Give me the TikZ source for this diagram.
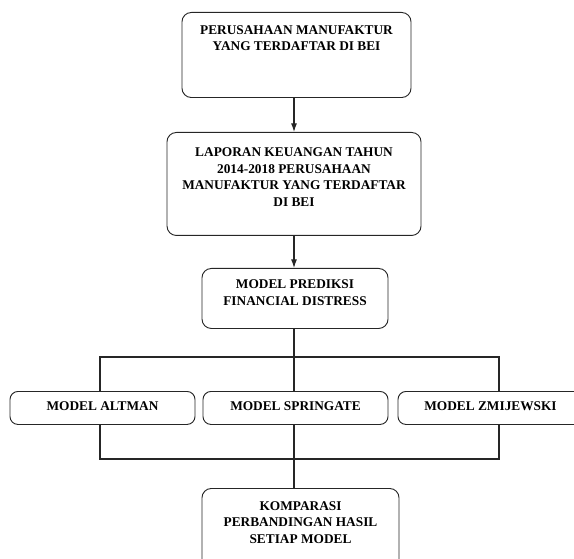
\documentclass[tikz,border=0pt]{standalone}
\usepackage{fontspec}
\setmainfont{Liberation Serif}
\usetikzlibrary{arrows.meta}
\tikzset{
    box/.style={draw=black!85, line width=0.7pt, rounded corners=7pt, align=center,
        anchor=north, inner xsep=0pt, inner ysep=0pt,
        font=\bfseries\fontsize{10}{12.5}\selectfont},
    conn/.style={draw=black!85, line width=0.8pt},
    tip/.style={-{Latex[length=6.5pt,width=4.5pt]}},
}
\begin{document}
\begin{tikzpicture}[x=0.75pt, y=-0.75pt]
    \useasboundingbox (0,0) rectangle (574,559);
    \node[box, minimum width=171.75pt, text height=28.9pt, text depth=34.9pt] (N0) at (296.5,12)
        {PERUSAHAAN MANUFAKTUR\\YANG TERDAFTAR DI BEI};
    \node[box, minimum width=190.5pt, text height=55.5pt, text depth=21.75pt] (N1) at (294,132)
        {LAPORAN KEUANGAN TAHUN\\2014-2018 PERUSAHAAN\\MANUFAKTUR YANG TERDAFTAR\\DI BEI};
    \node[box, minimum width=139.5pt, text height=27.75pt, text depth=17.25pt] (N2) at (295,268)
        {MODEL PREDIKSI\\FINANCIAL DISTRESS};
    \node[box, rounded corners=6pt, minimum width=138.75pt, text height=14.25pt, text depth=10.5pt] (N3) at (102.5,391)
        {MODEL ALTMAN};
    \node[box, rounded corners=6pt, minimum width=138.75pt, text height=14.25pt, text depth=10.5pt] (N4) at (295.5,391)
        {MODEL SPRINGATE};
    \node[box, rounded corners=6pt, minimum width=138.75pt, text height=14.25pt, text depth=10.5pt] (N5) at (490.5,391)
        {MODEL ZMIJEWSKI};
    \node[box, minimum width=147.75pt, text height=41.25pt, text depth=24pt] (N6) at (300.5,488)
        {KOMPARASI\\PERBANDINGAN HASIL\\SETIAP MODEL};
    \coordinate (B1) at (100,357);
    \coordinate (B2) at (499,357);
    \coordinate (C1) at (100,459);
    \coordinate (C2) at (499,459);
    \draw[conn, tip] (N0.south -| N1.north) -- (N1.north);
    \draw[conn, tip] (N1.south) -- (N1.south |- N2.north);
    \draw[conn] (N1.south |- N2.south) -- (N1.south |- N4.north);
    \draw[conn] (N1.south |- N4.south) -- (N1.south |- N6.north);
    \draw[conn] (B1 |- N3.north) -- (B1) -- (B2) -- (B2 |- N5.north);
    \draw[conn] (C1 |- N3.south) -- (C1) -- (C2) -- (C2 |- N5.south);
\end{tikzpicture}
\end{document}
